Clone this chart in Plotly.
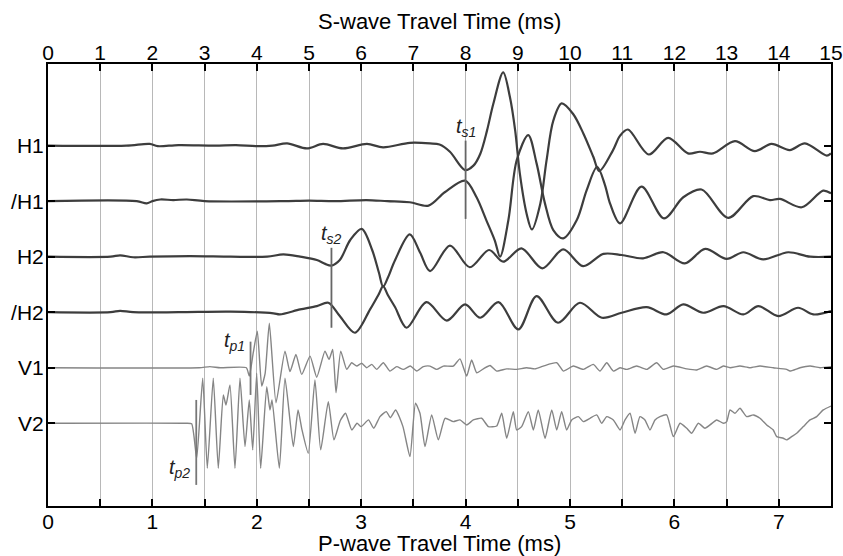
import plotly.graph_objects as go

# ---------------- data ----------------
# trace labels and their baseline positions on the y axis
TRACE_LABELS = ["H1", "/H1", "H2", "/H2", "V1", "V2"]
TRACE_BASE = [6, 5, 4, 3, 2, 1]

# S-wave traces: time in S-wave ms, amplitude in trace-spacing units
H1_T = [0, 1.5, 1.95, 2.1, 2.5, 3.2, 3.6, 4.0, 4.3, 4.58, 4.96, 5.27, 5.65, 6.11, 6.42, 6.93, 7.32, 7.5,
        7.7, 7.99, 8.15, 8.28, 8.41, 8.53, 8.72, 8.85, 8.95, 9.04, 9.17, 9.27, 9.43, 9.55, 9.68, 9.84,
        10.06, 10.26, 10.45, 10.56, 10.82, 10.96, 11.11, 11.51, 11.88, 12.26, 12.49, 12.74, 13.16,
        13.54, 13.86, 14.21, 14.5, 14.92, 15.0]
H1_A = [0, 0, 0.03, -0.01, 0.01, 0, 0.01, -0.01, 0, 0.04, -0.05, 0.03, -0.05, 0.03, -0.03, 0.05, 0.04, 0.02,
        -0.11, -0.44, -0.36, -0.15, 0.27, 0.75, 1.32, 0.87, 0.27, -0.51, -1.23, -1.51, -1.05, -0.27, 0.45, 0.76,
        0.57, 0.21, -0.21, -0.46, -0.09, 0.18, 0.29, -0.16, 0.14, -0.14, -0.11, -0.14, 0.08,
        -0.10, 0.03, -0.08, 0.04, -0.18, -0.14]

NH1_T = [0, 1.7, 1.89, 2.0, 2.15, 2.4, 2.66, 3.0, 4.5, 5.0, 5.5, 6.1, 6.5, 6.93, 7.29, 7.6, 7.99, 8.21,
         8.40, 8.56, 8.66, 8.82, 8.98, 9.20, 9.36, 9.52, 9.68, 9.87, 10.13, 10.32, 10.52, 10.67, 10.77,
         10.96, 11.37, 11.80, 12.17, 12.52, 13.03, 13.51, 13.83, 14.02, 14.44, 14.85, 15.0]
NH1_A = [0, 0, -0.04, 0, 0.03, 0.02, 0.03, 0, 0, 0.01, 0, 0.02, 0, -0.02, -0.08, 0.16, 0.37, 0.07,
         -0.35, -0.71, -1.0, -0.34, 0.74, 1.19, 0.68, -0.04, -0.52, -0.67, -0.34, 0.20, 0.62, 0.29, -0.05,
         -0.40, 0.26, -0.31, 0.07, 0.21, -0.30, 0.09, 0.02, 0.04, -0.11, 0.19, 0.14]

H2_T = [0, 1.2, 1.38, 1.63, 1.95, 2.72, 3.5, 4.2, 4.51, 4.83, 5.15, 5.31, 5.43, 5.59, 5.79, 6.01, 6.21,
        6.34, 6.42, 6.51, 6.65, 6.93, 7.13, 7.32, 7.70, 8.08, 8.45, 8.72, 9.07, 9.47, 9.87, 10.25, 10.64,
        10.99, 11.40, 11.79, 12.20, 12.59, 13.00, 13.32, 13.70, 14.18, 14.60, 15.0]
H2_A = [0, 0, 0.025, -0.01, 0, 0.01, 0, 0, 0.04, 0, -0.06, -0.13, -0.16, -0.06, 0.30, 0.50, 0.12,
        -0.29, -0.54, -0.38, -0.06, 0.40, 0.07, -0.26, 0.20, -0.19, 0.12, -0.09, 0.15, -0.21, 0.13, -0.17, 0.05,
        0.03, -0.03, 0.08, -0.12, 0.14, -0.04, 0.08, -0.05, 0.08, 0, 0]

NH2_T = [0, 1.2, 1.38, 1.63, 2.5, 3.5, 4.32, 4.44, 4.83, 5.15, 5.37, 5.59, 5.88, 6.17, 6.34, 6.42, 6.51,
         6.65, 6.87, 7.25, 7.64, 7.99, 8.28, 8.63, 9.01, 9.36, 9.77, 10.19, 10.61, 10.99, 11.47, 11.85,
         12.17, 12.55, 12.94, 13.32, 13.61, 13.99, 14.37, 14.66, 15.0]
NH2_A = [0, 0, 0.025, 0, 0, 0.01, -0.02, -0.04, 0.05, 0.11, 0.17, -0.07, -0.37, 0.05, 0.33, 0.47, 0.31,
         0.09, -0.28, 0.18, -0.15, 0.14, -0.10, 0.18, -0.31, 0.29, -0.19, 0.17, -0.10, -0.01, 0.09, -0.04,
         0.14, -0.01, 0.11, -0.04, 0.11, -0.07, 0.08, -0.04, 0.02]

# P-wave traces: time in P-wave ms
V1_T = [0, 1.45, 1.55, 1.65, 1.90, 1.928, 1.966, 2.005, 2.047, 2.08, 2.12, 2.184, 2.27, 2.318, 2.375,
        2.43, 2.51, 2.574, 2.653, 2.692, 2.727, 2.759, 2.804, 2.861, 2.909, 2.957, 3.005, 3.053, 3.101,
        3.149, 3.212, 3.276, 3.34, 3.403, 3.47, 3.532, 3.595, 3.659, 3.723, 3.787, 3.882, 3.946, 4.010,
        4.058, 4.106, 4.170, 4.234, 4.298, 4.394, 4.489, 4.585, 4.665, 4.744, 4.873, 4.936, 5.032, 5.128,
        5.223, 5.287, 5.352, 5.415, 5.479, 5.543, 5.639, 5.735, 5.830, 5.894, 5.990, 6.118, 6.214, 6.309,
        6.405, 6.469, 6.533, 6.628, 6.724, 6.820, 6.947, 7.075, 7.107, 7.203, 7.299, 7.395, 7.5]
V1_A = [0, 0, 0.02, 0, 0, -0.15, 0.27, 0.66, -0.33, -0.10, 0.80, -0.63, 0.30, -0.07, 0.24,
        -0.12, 0.21, -0.17, 0.30, 0.15, 0.33, -0.45, 0.30, -0.03, 0.09, 0.03, 0.08, 0, 0.06,
        -0.03, 0.09, -0.06, 0.02, -0.03, 0.03, -0.06, 0.02, 0.03, -0.03, 0.03, 0.03, 0.16, -0.15,
        0.14, -0.09, -0.02, 0.04, -0.06, -0.02, -0.03, 0, -0.02, 0.03, 0.09, -0.06, 0.03, -0.03,
        0.06, -0.06, 0.09, -0.06, 0, -0.03, 0.03, -0.03, 0.09, -0.03, 0.03, -0.02, -0.04, 0.03,
        -0.03, 0.03, 0, 0.03, 0, 0.03, 0, -0.03, -0.06, 0, 0.03, 0, 0.02]

V2_T = [0, 1.312, 1.376, 1.424, 1.482, 1.526, 1.583, 1.631, 1.679, 1.705, 1.743, 1.791, 1.839, 1.887,
        1.928, 1.961, 1.999, 2.037, 2.095, 2.126, 2.146, 2.216, 2.270, 2.350, 2.395, 2.433, 2.493, 2.557,
        2.612, 2.685, 2.739, 2.80, 2.85, 2.91, 2.96, 3.0, 3.07, 3.12, 3.18, 3.24, 3.28, 3.33, 3.40, 3.467,
        3.52, 3.563, 3.611, 3.675, 3.739, 3.803, 3.882, 3.946, 4.010, 4.074, 4.154, 4.218, 4.298, 4.346,
        4.394, 4.457, 4.489, 4.537, 4.601, 4.649, 4.696, 4.761, 4.825, 4.873, 4.920, 4.968, 5.016, 5.080,
        5.128, 5.192, 5.256, 5.303, 5.352, 5.415, 5.479, 5.527, 5.575, 5.623, 5.670, 5.718, 5.766, 5.814,
        5.862, 5.926, 5.990, 6.054, 6.118, 6.166, 6.229, 6.293, 6.341, 6.405, 6.469, 6.501, 6.533, 6.580,
        6.628, 6.692, 6.756, 6.820, 6.884, 6.947, 6.980, 7.043, 7.075, 7.123, 7.171, 7.235, 7.299, 7.363,
        7.426, 7.5]
V2_A = [0, 0, -0.01, -0.63, 0.81, -0.81, 0.81, -0.81, 0.51, 0.33, 0.69, -0.81, 0.81, -0.42,
        0.42, -0.48, 0.90, -0.81, 0.66, 0.24, 0.42, -0.81, 0.81, -0.42, 0.24, -0.12, -0.54, 0.78,
        -0.48, 0.39, -0.30, 0.05, 0.18, -0.12, 0.0, -0.06, 0.06, -0.09, 0.12, 0.21, 0.10, 0.24, -0.06, -0.60,
        0.36, 0.18, -0.42, 0.15, -0.30, 0.09, 0.03, 0.06, -0.03, 0.06, 0.09, -0.06, -0.05, 0.18,
        -0.27, 0.21, -0.12, -0.06, 0.21, -0.12, 0.24, -0.27, 0.24, -0.12, 0.21, -0.12, 0.06, 0.12,
        0.03, 0.09, 0.15, 0, 0.12, 0.06, -0.12, 0.06, 0.18, -0.18, 0.12, 0.06, -0.12, 0.06,
        0.12, 0.15, -0.24, 0, -0.09, -0.18, 0, -0.09, -0.03, 0.06, 0, 0.03, 0.24, 0.18,
        0.27, 0.12, 0.15, 0.09, -0.03, -0.12, -0.24, -0.27, -0.30, -0.24, -0.18, -0.06, 0.06, 0.12,
        0.24, 0.31]

# arrival picks: name, time, lower / upper extent of the marker line (y units)
S_PICK_NAMES = ["s1", "s2"]
S_PICK_TIMES = [8.0, 5.43]
S_PICK_LO = [4.68, 2.72]
S_PICK_HI = [6.09, 4.16]
P_PICK_NAMES = ["p1", "p2"]
P_PICK_TIMES = [1.94, 1.42]
P_PICK_LO = [1.51, -0.11]
P_PICK_HI = [2.47, 1.42]

# axis ticks
S_TICKS = list(range(0, 16))
P_TICKS = [i * 0.5 for i in range(0, 16)]
P_TICKTEXT = [str(int(v)) if v == int(v) else "" for v in P_TICKS]

# ---------------- figure ----------------
FONT = "Liberation Sans, Arial, sans-serif"
H_COLOR = "#3d3d3d"
V_COLOR = "#858585"

fig = go.Figure()

s_traces = [(H1_T, H1_A, 0), (NH1_T, NH1_A, 1), (H2_T, H2_A, 2), (NH2_T, NH2_A, 3)]
for t, a, i in s_traces:
    fig.add_trace(go.Scatter(x=t, y=[TRACE_BASE[i] + v for v in a], xaxis="x2", yaxis="y",
                             mode="lines", line=dict(color=H_COLOR, width=2.2, shape="spline", smoothing=0.9),
                             name=TRACE_LABELS[i], showlegend=False, hoverinfo="skip"))

p_traces = [(V1_T, V1_A, 4), (V2_T, V2_A, 5)]
for t, a, i in p_traces:
    fig.add_trace(go.Scatter(x=t, y=[TRACE_BASE[i] + v for v in a], xaxis="x", yaxis="y",
                             mode="lines", line=dict(color=V_COLOR, width=1.4, shape="spline", smoothing=0.5),
                             name=TRACE_LABELS[i], showlegend=False, hoverinfo="skip"))

annotations = []
for n, t, lo, hi in zip(S_PICK_NAMES, S_PICK_TIMES, S_PICK_LO, S_PICK_HI):
    fig.add_trace(go.Scatter(x=[t, t], y=[lo, hi], xaxis="x2", yaxis="y", mode="lines",
                             line=dict(color="#666666", width=1.8), showlegend=False, hoverinfo="skip"))
    annotations.append(dict(x=t, y=hi, xref="x2", yref="y", text="<i>t</i><sub><i>%s</i></sub>" % n,
                            showarrow=False, yanchor="bottom", xanchor="center", yshift=-1,
                            font=dict(family=FONT, size=20, color="#222222")))
for n, t, lo, hi in zip(P_PICK_NAMES, P_PICK_TIMES, P_PICK_LO, P_PICK_HI):
    fig.add_trace(go.Scatter(x=[t, t], y=[lo, hi], xaxis="x", yaxis="y", mode="lines",
                             line=dict(color="#777777", width=1.8), showlegend=False, hoverinfo="skip"))
for n, t, y in zip(P_PICK_NAMES, P_PICK_TIMES, [P_PICK_HI[0], P_PICK_LO[1]]):
    annotations.append(dict(x=t, y=y, xref="x", yref="y", text="<i>t</i><sub><i>%s</i></sub>" % n,
                            showarrow=False, xanchor="right", yanchor="middle" if n == "p1" else "bottom",
                            xshift=-4, yshift=0 if n == "p1" else 2,
                            font=dict(family=FONT, size=20, color="#222222")))

# axis titles as paper-anchored annotations
annotations.append(dict(x=0.5, y=1, xref="paper", yref="paper", yshift=43, text="S-wave Travel Time (ms)",
                        showarrow=False, yanchor="middle", font=dict(family=FONT, size=22, color="black")))
annotations.append(dict(x=0.5, y=0, xref="paper", yref="paper", yshift=-37, text="P-wave Travel Time (ms)",
                        showarrow=False, yanchor="middle", font=dict(family=FONT, size=22, color="black")))

fig.update_layout(
    width=843, height=556,
    margin=dict(l=48, r=12, t=64, b=50),
    paper_bgcolor="white", plot_bgcolor="white",
    font=dict(family=FONT, size=21, color="black"),
    annotations=annotations,
    xaxis=dict(range=[0, 7.5], tickvals=P_TICKS, ticktext=P_TICKTEXT, ticks="inside", ticklen=7,
               tickwidth=2, tickcolor="black", showline=True, linewidth=2, linecolor="black",
               showgrid=True, gridcolor="#b8b8b8", gridwidth=1.3, zeroline=False, automargin=False,
               ticklabelstandoff=-4, tickfont=dict(size=21)),
    xaxis2=dict(range=[0, 15], overlaying="x", side="top", tickvals=S_TICKS, ticks="inside", ticklen=7,
                tickwidth=2, tickcolor="black", showline=True, linewidth=2, linecolor="black",
                showgrid=False, zeroline=False, automargin=False,
                ticklabelstandoff=-6, tickfont=dict(size=21)),
    yaxis=dict(range=[-0.49, 7.47], tickvals=TRACE_BASE, ticktext=TRACE_LABELS, ticks="inside", ticklen=7,
               tickwidth=2, tickcolor="black", showline=True, linewidth=2, linecolor="black", mirror="ticks",
               showgrid=False, zeroline=False, automargin=False, ticklabelstandoff=-2,
               tickfont=dict(size=21)),
)

fig.write_html("out.html", config={"displayModeBar": False},
               post_script="document.body.style.margin='0px';")
